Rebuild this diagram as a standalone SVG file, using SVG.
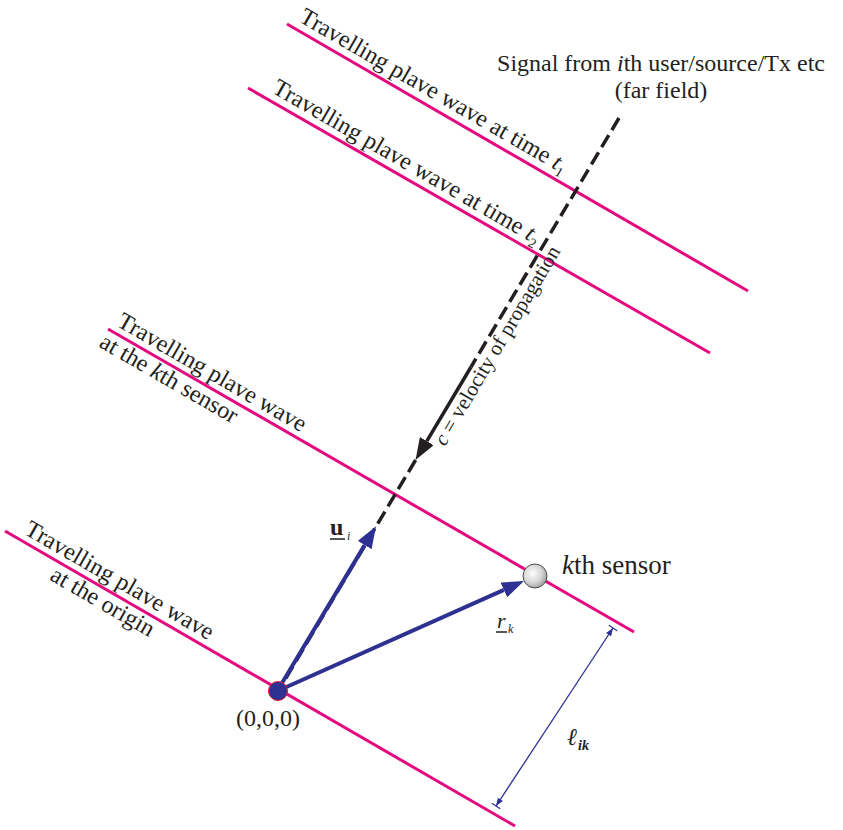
<svg xmlns="http://www.w3.org/2000/svg" width="843" height="830" viewBox="0 0 843 830">
  <style>
    text { font-family: "Liberation Serif", "Times New Roman", "DejaVu Serif", serif; fill: #231f20; }
    .lbl { font-size: 24px; }
    .wave { stroke: #e4097f; stroke-width: 3; fill: none; }
    .dash { stroke: #231f20; stroke-width: 3.5; fill: none; stroke-dasharray: 14 6; }
    .solid { stroke: #231f20; stroke-width: 3.5; fill: none; }
    .vec { stroke: #2e3192; stroke-width: 4; fill: none; }
    .dim { stroke: #2e3192; stroke-width: 1.3; fill: none; }
    .it { font-style: italic; }
  </style>
  <defs>
    <marker id="blueHead" viewBox="0 0 22 16" refX="0" refY="8" markerWidth="22" markerHeight="16" markerUnits="userSpaceOnUse" orient="auto">
      <path d="M0,0 L22,8 L0,16 Z" fill="#2e3192"/>
    </marker>
    <marker id="blackHead" viewBox="0 0 22 16" refX="0" refY="8" markerWidth="22" markerHeight="16" markerUnits="userSpaceOnUse" orient="auto">
      <path d="M0,0 L22,8 L0,16 Z" fill="#231f20"/>
    </marker>
    <marker id="dimHead" viewBox="0 0 10 12" refX="9" refY="6" markerWidth="10" markerHeight="12" markerUnits="userSpaceOnUse" orient="auto-start-reverse">
      <path d="M1,3 L9,6 L1,9 Z" fill="#2e3192"/>
      <path d="M9,1 L9,11" stroke="#2e3192" stroke-width="1.3"/>
    </marker>
    <radialGradient id="sensorGrad" cx="0.4" cy="0.4" r="0.65">
      <stop offset="0" stop-color="#ffffff"/>
      <stop offset="0.6" stop-color="#d4d4d4"/>
      <stop offset="1" stop-color="#9a9a9a"/>
    </radialGradient>
  </defs>

  <!-- wavefronts -->
  <g id="wave-t1">
    <line class="wave" x1="287" y1="24" x2="748" y2="291"/>
    <g transform="translate(287,24) rotate(30)">
      <text class="lbl" x="8" y="-8">Travelling plave wave at time <tspan class="it">t</tspan><tspan font-size="14" dy="5">1</tspan></text>
    </g>
  </g>
  <g id="wave-t2">
    <line class="wave" x1="248" y1="88" x2="710" y2="353"/>
    <g transform="translate(248,88) rotate(30)">
      <text class="lbl" x="22" y="-8">Travelling plave wave at time <tspan class="it">t</tspan><tspan font-size="14" dy="5">2</tspan></text>
    </g>
  </g>
  <g id="wave-k">
    <line class="wave" x1="108" y1="329" x2="634" y2="632"/>
    <g transform="translate(108,329) rotate(30)">
      <text class="lbl" x="5" y="-7">Travelling plave wave</text>
      <text class="lbl" x="0" y="20">at the <tspan class="it">k</tspan>th sensor</text>
    </g>
  </g>
  <g id="wave-origin">
    <line class="wave" x1="5" y1="531" x2="515" y2="826"/>
    <g transform="translate(5,531) rotate(30)">
      <text class="lbl" x="17" y="-7">Travelling plave wave</text>
      <text class="lbl" x="62" y="20">at the origin</text>
    </g>
  </g>

  <!-- source label -->
  <g id="source">
    <text class="lbl" x="661" y="71" text-anchor="middle">Signal from <tspan class="it">i</tspan>th user/source/Tx etc</text>
    <text class="lbl" x="661" y="98" text-anchor="middle">(far field)</text>
  </g>

  <!-- connectors -->
  <g id="connectors">
    <path class="dash" d="M619,118 L471,367"/>
    <path class="solid" d="M471,367 L426.8,441.1" marker-end="url(#blackHead)"/>
    <path class="dash" d="M415.6,460 L280,688"/>
    <path class="vec" d="M279,688 L364.7,545.1" marker-end="url(#blueHead)"/>
    <path class="vec" d="M282,689 L503.9,589.9" marker-end="url(#blueHead)"/>
    <path class="dim" d="M496,806 L613,628" marker-start="url(#dimHead)" marker-end="url(#dimHead)"/>
  </g>

  <g id="velocity-label" transform="translate(445,447) rotate(-59.4)">
    <text font-size="21"><tspan class="it">c</tspan> = velocity of propagation</text>
  </g>

  <!-- origin -->
  <g id="origin">
    <circle cx="278" cy="691" r="9.5" fill="#2e3192" stroke="#ed1c24" stroke-width="1"/>
    <text class="lbl" x="268" y="726" text-anchor="middle">(0,0,0)</text>
  </g>

  <!-- sensor -->
  <g id="sensor">
    <circle cx="535" cy="576" r="12" fill="url(#sensorGrad)" stroke="#4d4d4d" stroke-width="1"/>
    <text x="562" y="574" font-size="27"><tspan class="it">k</tspan>th sensor</text>
  </g>

  <!-- vector labels -->
  <g id="label-u">
    <text x="330" y="535" font-size="24" font-weight="bold">u</text>
    <line x1="330" y1="539" x2="345" y2="539" stroke="#231f20" stroke-width="1.5"/>
    <text x="347" y="540" font-size="12" class="it">i</text>
  </g>
  <g id="label-r">
    <text x="497" y="628" font-size="22" class="it">r</text>
    <line x1="496" y1="632" x2="507" y2="632" stroke="#231f20" stroke-width="1.5"/>
    <text x="508" y="633" font-size="12" class="it">k</text>
  </g>
  <g id="label-l">
    <text x="567" y="745" font-size="24" class="it">ℓ</text>
    <text x="578" y="750" font-size="14" font-style="italic" font-weight="bold">ik</text>
  </g>
</svg>
